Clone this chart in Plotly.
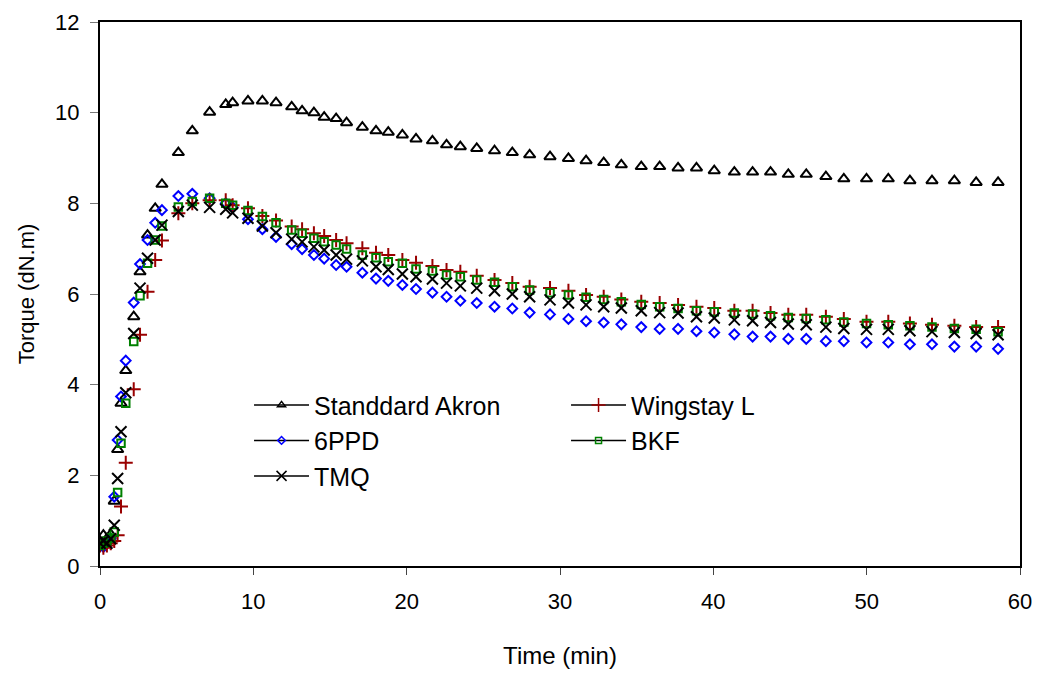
import plotly.graph_objects as go

time_min = [0.0, 0.22, 0.45, 0.7, 0.93, 1.15, 1.37, 1.68, 2.2, 2.61, 3.1, 3.6, 4.04,
            5.11, 6.02, 7.15, 8.2, 8.65, 9.65, 10.59, 11.48,
            12.5, 13.18, 13.95, 14.62, 15.4, 16.08, 17.11, 18.0, 18.8, 19.72, 20.61, 21.68,
            22.6, 23.5, 24.57, 25.73,
            26.89, 28.02, 29.35, 30.55, 31.7, 32.85, 34.0, 35.3, 36.5, 37.7, 38.9, 40.06,
            41.37, 42.56, 43.73, 44.89, 46.06, 47.34, 48.51, 49.99, 51.41, 52.82, 54.26,
            55.72, 57.14, 58.57]

standard_akron = [0.55, 0.68, 0.6, 0.7, 1.43, 2.57, 3.59, 4.31, 5.50, 6.49, 7.30, 7.89, 8.42,
                  9.12, 9.60, 10.01, 10.18, 10.22, 10.26, 10.26, 10.22,
                  10.13, 10.04, 10.0, 9.90, 9.87, 9.78, 9.68, 9.60, 9.57, 9.51, 9.42, 9.38,
                  9.29, 9.25, 9.21, 9.16,
                  9.12, 9.07, 9.03, 8.99, 8.94, 8.90, 8.85, 8.81, 8.81, 8.78, 8.78, 8.72,
                  8.69, 8.69, 8.69, 8.64, 8.64, 8.59, 8.54, 8.54, 8.54, 8.50, 8.50, 8.50,
                  8.46, 8.46]

wingstay_l = [0.45, 0.4, 0.45, 0.5, 0.55, 0.68, 1.31, 2.28, 3.90, 5.10, 6.05, 6.75, 7.18,
              7.78, 8.0, 8.07, 8.07, 7.96, 7.89, 7.72, 7.62,
              7.49, 7.43, 7.34, 7.28, 7.19, 7.12, 7.01, 6.91, 6.86, 6.75, 6.69, 6.62,
              6.53, 6.49, 6.40, 6.31,
              6.24, 6.16, 6.13, 6.07, 5.98, 5.94, 5.88, 5.83, 5.80, 5.76, 5.72, 5.69,
              5.63, 5.63, 5.58, 5.54, 5.54, 5.50, 5.45, 5.39, 5.39, 5.35, 5.32, 5.30,
              5.27, 5.27]

ppd_6 = [0.45, 0.42, 0.5, 0.6, 1.53, 2.78, 3.74, 4.53, 5.81, 6.66, 7.19, 7.57, 7.85,
         8.16, 8.21, 8.11, 8.0, 7.91, 7.65, 7.43, 7.26,
         7.10, 6.99, 6.86, 6.78, 6.64, 6.60, 6.47, 6.34, 6.29, 6.20, 6.11, 6.03,
         5.94, 5.85, 5.80, 5.72,
         5.68, 5.59, 5.55, 5.45, 5.40, 5.37, 5.33, 5.27, 5.23, 5.23, 5.18, 5.15,
         5.11, 5.06, 5.06, 5.01, 5.01, 4.96, 4.96, 4.93, 4.93, 4.89, 4.89, 4.84,
         4.84, 4.79]

bkf = [0.45, 0.5, 0.55, 0.62, 0.75, 1.62, 2.71, 3.59, 4.95, 5.96, 6.68, 7.19, 7.50,
       7.92, 8.04, 8.11, 8.0, 7.96, 7.84, 7.71, 7.57,
       7.41, 7.34, 7.23, 7.15, 7.08, 6.99, 6.86, 6.80, 6.71, 6.68, 6.55, 6.51,
       6.42, 6.38, 6.31, 6.26,
       6.16, 6.09, 6.03, 5.98, 5.93, 5.88, 5.83, 5.77, 5.72, 5.68, 5.63, 5.61,
       5.58, 5.56, 5.52, 5.48, 5.46, 5.43, 5.38, 5.35, 5.32, 5.30, 5.27, 5.24,
       5.22, 5.17]

tmq = [0.5, 0.55, 0.5, 0.6, 0.90, 1.93, 2.96, 3.82, 5.13, 6.13, 6.79, 7.19, 7.52,
       7.82, 7.96, 7.91, 7.87, 7.79, 7.67, 7.50, 7.35,
       7.21, 7.15, 7.04, 6.97, 6.86, 6.77, 6.73, 6.60, 6.54, 6.44, 6.38, 6.33,
       6.24, 6.18, 6.13, 6.07,
       6.0, 5.94, 5.87, 5.80, 5.76, 5.72, 5.69, 5.63, 5.59, 5.58, 5.50, 5.47,
       5.43, 5.41, 5.37, 5.34, 5.32, 5.27, 5.24, 5.22, 5.22, 5.19, 5.17, 5.15,
       5.13, 5.10]

series_names = ["Standdard Akron", "Wingstay L", "6PPD", "BKF", "TMQ"]
x_ticks = [0, 10, 20, 30, 40, 50, 60]
y_ticks = [0, 2, 4, 6, 8, 10, 12]

FONT = "Arial, Liberation Sans, sans-serif"

styles = {
    "Standdard Akron": dict(symbol="triangle-up-open", size=10, color="black", lw=2),
    "Wingstay L": dict(symbol="cross-thin-open", size=10, color="#990000", lw=2),
    "6PPD": dict(symbol="diamond-open", size=7.5, color="#0000FF", lw=2),
    "BKF": dict(symbol="square-open", size=7.5, color="#008000", lw=2),
    "TMQ": dict(symbol="x-thin-open", size=11, color="black", lw=2),
}
legend_sizes = {"Standdard Akron": 7, "Wingstay L": 10, "6PPD": 6, "BKF": 6, "TMQ": 10}

data = {
    "Standdard Akron": standard_akron,
    "Wingstay L": wingstay_l,
    "6PPD": ppd_6,
    "BKF": bkf,
    "TMQ": tmq,
}

fig = go.Figure()
for name in ["Standdard Akron", "6PPD", "Wingstay L", "BKF", "TMQ"]:
    st = styles[name]
    fig.add_trace(go.Scatter(
        x=time_min, y=data[name], mode="markers", name=name, showlegend=False,
        marker=dict(symbol=st["symbol"], size=st["size"], color=st["color"],
                    line=dict(color=st["color"], width=st["lw"])),
    ))

# legend entries (line + marker like the original)
for name in series_names:
    st = styles[name]
    fig.add_trace(go.Scatter(
        x=[None], y=[None], mode="lines+markers", name=name, showlegend=True,
        line=dict(color="black", width=1.5),
        marker=dict(symbol=st["symbol"], size=legend_sizes[name], color=st["color"],
                    line=dict(color=st["color"], width=1.5)),
    ))

# page body has an 8px margin: plot area targeted at x 100..1020, y 22..566 of the window
fig.update_layout(
    width=1034, height=670,
    margin=dict(l=92, r=22, t=14, b=112),
    paper_bgcolor="white", plot_bgcolor="white",
    font=dict(family=FONT, size=22, color="black"),
    legend=dict(
        orientation="h", x=0.162, y=0.338, xanchor="left", yanchor="top",
        entrywidth=247, entrywidthmode="pixels", itemwidth=55,
        font=dict(family=FONT, size=25, color="black"),
        bgcolor="rgba(0,0,0,0)", traceorder="normal",
    ),
    xaxis=dict(
        range=[0, 60], tickvals=x_ticks, ticktext=[str(v) for v in x_ticks],
        showgrid=False, zeroline=False, automargin=False,
        showline=True, linecolor="black", linewidth=2, mirror=True,
        ticks="outside", ticklen=7, tickcolor="#444", tickwidth=1,
        ticklabelstandoff=8,
        tickfont=dict(family=FONT, size=22),
        title=dict(text="Time (min)", font=dict(family=FONT, size=24), standoff=34),
    ),
    yaxis=dict(
        range=[0, 12], tickvals=y_ticks, ticktext=[str(v) for v in y_ticks],
        showgrid=False, zeroline=False, automargin=False,
        showline=True, linecolor="black", linewidth=2, mirror=True,
        ticks="outside", ticklen=8, tickcolor="#777", tickwidth=1,
        ticklabelstandoff=6,
        tickfont=dict(family=FONT, size=22),
        title=dict(text="Torque (dN.m)", font=dict(family=FONT, size=22), standoff=14),
    ),
)

fig.write_html("out.html")
